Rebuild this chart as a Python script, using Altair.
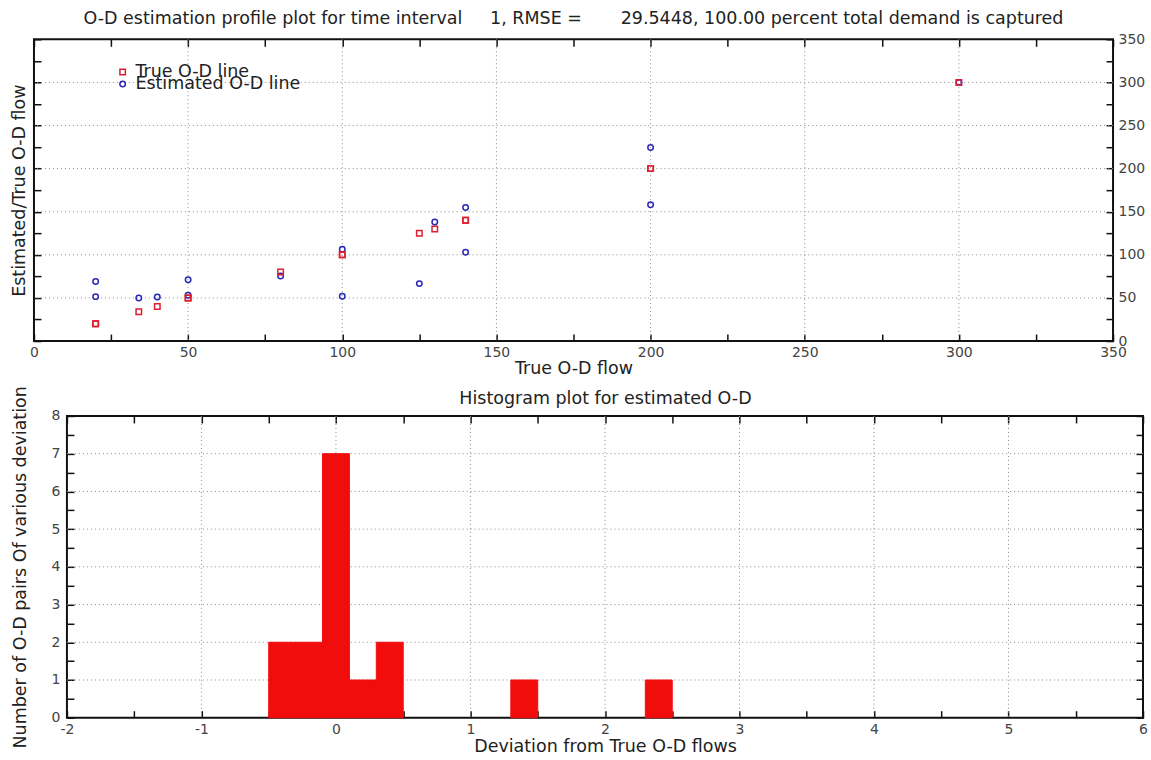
import altair as alt
import pandas as pd

FONT = "DejaVu Sans"
RED = "#dd1f2f"
BLUE = "#2828b4"
BAR_RED = "#f20d0d"
TFS = 17.5   # title font size
LFS = 14     # tick label font size

# ---------------- top panel data ----------------
true_flow = [20, 20, 34, 40, 50, 50, 80, 100, 100, 125, 130, 140, 140, 200, 200, 300]
est_flow = [69, 51.5, 50, 51, 71, 53, 75.5, 106.5, 52, 66.6, 138, 155, 103, 224.4, 158, 300]
series_names = ["True O-D line", "Estimated O-D line"]

top_ticks = [0, 25, 50, 75, 100, 125, 150, 175, 200, 225, 250, 275, 300, 325, 350]
top_grid = [50, 100, 150, 200, 250, 300]

# ---------------- histogram data ----------------
bin_start = [-0.5, -0.3, -0.1, 0.1, 0.3, 1.3, 2.3]
bin_end = [-0.3, -0.1, 0.1, 0.3, 0.5, 1.5, 2.5]
bin_count = [2, 2, 7, 1, 2, 1, 1]

hist_x_ticks = [-2, -1.5, -1, -0.5, 0, 0.5, 1, 1.5, 2, 2.5, 3, 3.5, 4, 4.5, 5, 5.5, 6]
hist_y_ticks = [0, 0.5, 1, 1.5, 2, 2.5, 3, 3.5, 4, 4.5, 5, 5.5, 6, 6.5, 7, 7.5, 8]
hist_x_grid = [-1, 0, 1, 2, 3, 4, 5]
hist_y_grid = [1, 2, 3, 4, 5, 6, 7]

TITLE_TOP = ("O-D estimation profile plot for time interval\u00a0\u00a0\u00a0\u00a0 1, RMSE =\u00a0\u00a0\u00a0\u00a0\u00a0\u00a0 "
             "29.5448, 100.00 percent total demand is captured")
TITLE_BOTTOM = "Histogram plot for estimated O-D"


def axis(orient, values, label_expr=None, title=None, label_padding=4.5, title_padding=0):
    kw = dict(
        orient=orient, values=values, offset=-7, tickSize=7, tickWidth=1.5,
        tickColor="#111", domain=False, grid=False, labelFlush=False,
        labelOverlap=False, labelFont=FONT, labelFontSize=LFS,
        labelColor="#444", labelPadding=label_padding,
        titleFont=FONT, titleFontSize=TFS, titleFontWeight="normal",
        titleColor="#222", titlePadding=title_padding,
    )
    if label_expr is None:
        kw["labels"] = False
    else:
        kw["labelExpr"] = label_expr
    kw["title"] = title
    return alt.Axis(**kw)


grid_mark = dict(color="#8a8a8a", strokeDash=[1, 3], strokeWidth=1)

# ---------------- top chart ----------------
xs = alt.Scale(domain=[0, 350], nice=False, zero=False)
ys = alt.Scale(domain=[0, 350], nice=False, zero=False)
lab50 = "datum.value % 50 === 0 ? datum.label : ''"

gx_top = alt.Chart(pd.DataFrame({"g": top_grid})).mark_rule(**grid_mark).encode(
    x=alt.X("g:Q", scale=xs, axis=axis("bottom", top_ticks, lab50, "True O-D flow", 4.5, 0))
)
gy_top = alt.Chart(pd.DataFrame({"g": top_grid})).mark_rule(**grid_mark).encode(
    y=alt.Y("g:Q", scale=ys, axis=axis("left", top_ticks, None, "Estimated/True O-D flow", 6, 5))
)

pts_rows = [{"x": t, "y": e, "series": series_names[1]} for t, e in zip(true_flow, est_flow)]
pts_rows += [{"x": t, "y": t, "series": series_names[0]} for t in true_flow]
pts_df = pd.DataFrame(pts_rows)
pts_df["series2"] = pts_df["series"]

leg_common = dict(title=None, orient="none", labelFont=FONT, labelFontSize=TFS,
                  labelColor="#222", symbolSize=30, symbolStrokeWidth=1.5,
                  padding=0, labelOffset=4, labelLimit=400,
                  symbolFillColor="transparent")
leg_true = alt.Legend(values=[series_names[0]], legendX=80, legendY=24,
                      symbolType="square", symbolStrokeColor=RED, **leg_common)
leg_est = alt.Legend(values=[series_names[1]], legendX=80, legendY=36,
                     symbolType="circle", symbolStrokeColor=BLUE, **leg_common)

pts = alt.Chart(pts_df).mark_point(filled=False, size=30, strokeWidth=1.5, opacity=1).encode(
    x=alt.X("x:Q", scale=xs, axis=axis("top", top_ticks)),
    y=alt.Y("y:Q", scale=ys, axis=axis("right", top_ticks, lab50, None, 5)),
    color=alt.Color("series:N", scale=alt.Scale(domain=series_names, range=[RED, BLUE]), legend=leg_true),
    shape=alt.Shape("series2:N",
                    scale=alt.Scale(domain=[series_names[1], series_names[0]], range=["circle", "square"]),
                    legend=leg_est),
)

top = alt.layer(gx_top, gy_top, pts).resolve_axis(x="independent", y="independent").properties(
    width=1080, height=302,
    title=alt.Title(TITLE_TOP, font=FONT, fontSize=TFS, fontWeight="normal", color="#222",
                    frame="group", anchor="middle", offset=5),
)

# ---------------- bottom chart ----------------
bxs = alt.Scale(domain=[-2, 6], nice=False, zero=False)
bys = alt.Scale(domain=[0, 8], nice=False, zero=False)
lab1 = "datum.value % 1 === 0 ? toString(datum.value) : ''"

hist_df = pd.DataFrame({"start": bin_start, "end": bin_end, "count": bin_count})
bars = alt.Chart(hist_df).mark_rect(color=BAR_RED, stroke=BAR_RED, strokeWidth=1).encode(
    x=alt.X("start:Q", scale=bxs, axis=axis("top", hist_x_ticks, None, TITLE_BOTTOM, 4.5, 8)),
    x2="end:Q",
    y=alt.Y("count:Q", scale=bys, axis=axis("right", hist_y_ticks)),
    y2=alt.datum(0),
)
gx_bot = alt.Chart(pd.DataFrame({"g": hist_x_grid})).mark_rule(**grid_mark).encode(
    x=alt.X("g:Q", scale=bxs, axis=axis("bottom", hist_x_ticks, lab1, "Deviation from True O-D flows", 4.5, 1.5))
)
gy_bot = alt.Chart(pd.DataFrame({"g": hist_y_grid})).mark_rule(**grid_mark).encode(
    y=alt.Y("g:Q", scale=bys, axis=axis("left", hist_y_ticks, lab1, "Number of O-D pairs Of various deviation", 7, 22))
)

bottom = alt.layer(gx_bot, gy_bot, bars).resolve_axis(x="independent", y="independent").properties(
    width=1077, height=302,
)

spacer = alt.Chart(pd.DataFrame({"v": [0]})).mark_point(opacity=0).properties(
    width=33, height=10, view=alt.ViewBackground(stroke="transparent", strokeWidth=0)
)

chart = alt.vconcat(
    top,
    alt.hconcat(spacer, bottom, spacing=0, bounds="flush"),
    spacing=6,
).properties(
    padding={"left": 9, "top": 8, "right": 2, "bottom": 2},
    background="white",
).configure_view(stroke="#111", strokeWidth=2)

chart.save("out.html", embed_options={"renderer": "svg", "actions": False})
